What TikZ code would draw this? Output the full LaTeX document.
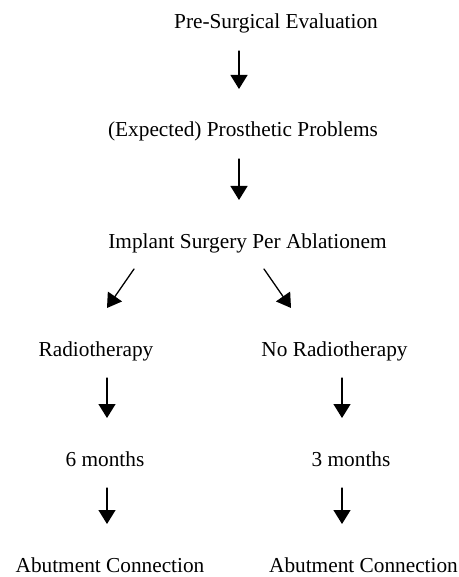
\documentclass[tikz,border=0pt]{standalone}
\usepackage{fontspec}
\setmainfont{Liberation Serif}
\usetikzlibrary{arrows.meta,calc}

\begin{document}
\begin{tikzpicture}[x=0.5pt,y=-0.5pt,line cap=round,
	lbl/.style={anchor=base,inner sep=0pt,font=\fontsize{10.65}{12}\selectfont},
	arr/.style={line width=0.65pt,-{Triangle[length=7pt,width=8.5pt]}}]
	
	% ===== 画布：459 x 577 像素，y 轴向下 =====
	\useasboundingbox (0,0) rectangle (459,577);
	
	% ---- 箭头所在的竖直列 ----
	\coordinate (cm) at (239,0);
	\coordinate (cl) at (107,0);
	\coordinate (cr) at (342,0);
	
	% ---- 主干 ----
	\node[lbl] (eval) at (276,29) {Pre-Surgical Evaluation};
	\node[lbl] (problems) at (243,137) {(Expected) Prosthetic Problems};
	\node[lbl] (surgery) at (247.5,248) {Implant Surgery Per Ablationem};
	
	% ---- 两个分支 ----
	\node[lbl] (radio) at (96,356) {Radiotherapy};
	\node[lbl] (noradio) at (334.5,356) {No Radiotherapy};
	\node[lbl] (six) at (105,466) {6 months};
	\node[lbl] (three) at (351,466) {3 months};
	\node[lbl] (abutl) at (110,572) {Abutment Connection};
	\node[lbl] (abutr) at (363.5,572) {Abutment Connection};
	
	% ---- 竖直箭头（不接触文字）----
	\foreach \s/\t/\c in {eval/problems/cm,problems/surgery/cm,
		radio/six/cl,noradio/three/cr,six/abutl/cl,three/abutr/cr}
		\draw[arr] ($(\s.base -| \c)+(0,22)$) -- ($(\t.base -| \c)-(0,48)$);
	
	% ---- 斜箭头 ----
	\draw[arr] ($(surgery.base)+(-113.5,21)$) -- ++(-27,39);
	\draw[arr] ($(surgery.base)+(16.5,21)$) -- ++(27,39);
	
\end{tikzpicture}
\end{document}
